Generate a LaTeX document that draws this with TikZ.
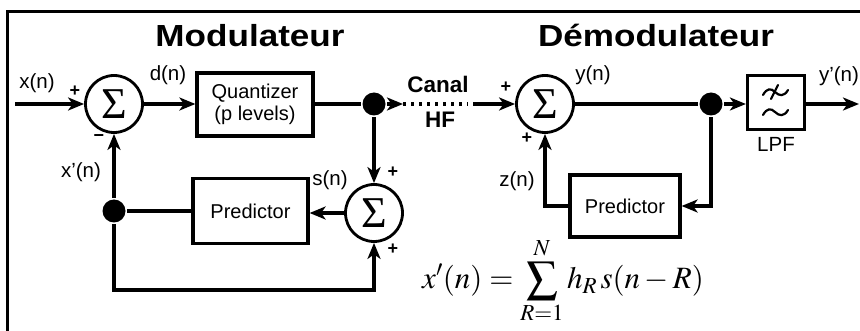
\documentclass[tikz,border=0pt]{standalone}
\usepackage{mathptmx}
\usepackage{fontspec}
\setmainfont{Liberation Sans}
\newfontfamily\sigfont{Liberation Serif}
\usetikzlibrary{arrows.meta}
\begin{document}
\begin{tikzpicture}[x=1pt,y=-1pt,
  line width=3.3pt,
  >={Stealth[length=16pt,width=13pt,inset=4.5pt]},
  sumnode/.style={circle,draw,line width=2.8pt,minimum size=57pt,inner sep=0pt,font=\sigfont\fontsize{44}{44}\selectfont},
  blockbox/.style={draw,line width=3.2pt,inner sep=0pt,align=center,font=\fontsize{20}{21.5}\selectfont},
  dotnode/.style={circle,fill,minimum size=23pt,inner sep=0pt},
  lbl/.style={inner sep=0pt,anchor=base,font=\fontsize{20.5}{22}\selectfont},
  bold lbl/.style={inner sep=0pt,anchor=base,font=\bfseries\fontsize{22.5}{24}\selectfont},
  sgn/.style={inner sep=0pt,font=\bfseries\fontsize{18}{18}\selectfont},
  titletext/.style={inner sep=0pt,anchor=base,font=\bfseries\fontsize{30.5}{34}\selectfont},
  wave/.style={line width=2.2pt,line cap=round},
]
\useasboundingbox (0,0) rectangle (860,331);
% frame
\draw[line width=3pt] (7.3,332) -- (7.3,11.7) -- (861,11.7);

% titles
\node[titletext] (t1) at (250,47) {\scalebox{1.15}[1]{Modulateur}};
\node[titletext] (t2) at (656,47) {\scalebox{1.15}[1]{Démodulateur}};

% ---------- modulator ----------
\node[sumnode] (s1) at (114,104) {Σ};
\node[blockbox,minimum width=116pt,minimum height=63pt] (q) at (255,104.5) {Quantizer\\(p levels)};
\node[dotnode] (d1) at (374,104) {};
\node[sumnode] (s3) at (374,213) {Σ};
\node[blockbox,minimum width=115pt,minimum height=65pt] (p1) at (250.5,211) {Predictor};
\node[dotnode] (d3) at (114,211) {};

\coordinate (in) at (15,104);
\coordinate (bl) at (114,290);

\draw[->] (in) -- (s1);
\draw[->] (s1.east) -- (q.west |- s1.east);
\draw (q.east |- d1) -- (d1);
\draw[->] (d1) -- (s3);
\draw[->] (s3.west) -- (p1.east |- s3.west);
\draw (p1.west |- d3) -- (d3);
\draw[->] (d3) -- (s1);
\draw[->] (d3) -- (bl) -| (s3.south);

\node[lbl] (lx) at (37,89) {x(n)};
\node[lbl] (ld) at (168,81) {d(n)};
\node[lbl] (lxp) at (81,178) {x'(n)};
\node[lbl] (ls) at (330,186) {s(n)};
\node[sgn] (g1) at (75,91) {+};
\node[sgn] (g2) at (99,138) {−};
\node[sgn] (g3) at (393,172) {+};
\node[sgn] (g4) at (393,249) {+};

% ---------- channel ----------
\coordinate (a1) at (403,104);
\coordinate (a2) at (468,104);
\coordinate (a3) at (473,104);
\draw[->] (d1) -- (a1);
\draw[line width=3.2pt,dash pattern=on 3pt off 5pt] (a1) -- (a2);
\node[bold lbl] (lc) at (438,93) {Canal};
\node[bold lbl] (lh) at (440,128) {HF};

% ---------- demodulator ----------
\node[sumnode] (s2) at (545,104) {Σ};
\node[dotnode] (d2) at (711,104) {};
\node[draw,line width=3.2pt,minimum width=57pt,minimum height=54pt,inner sep=0pt] (lpf) at (776,102.5) {};
\node[blockbox,minimum width=110pt,minimum height=62pt] (p2) at (625,206) {Predictor};
\coordinate (out) at (859,104);

\draw[->] (a3) -- (s2);
\draw (s2) -- (d2);
\draw[->] (d2) -- (d2 -| lpf.west);
\draw[->] (lpf.east |- out) -- (out);
\draw[->] (p2.west) -| (s2.south);
\draw[->] (d2) |- (p2.east);

% filter symbols
\draw[wave] (763,95) .. controls (767,88) and (771,88) .. (775,92) .. controls (779,96) and (784,97) .. (788,90);
\draw[wave] (771,99) -- (778,85);
\draw[wave] (763,115) .. controls (767,108) and (771,108) .. (775,112) .. controls (779,116) and (784,117) .. (788,110);

\node[lbl] (lsy) at (593,81) {y(n)};
\node[lbl] (lyp) at (839,82) {y'(n)};
\node[lbl] (ll) at (776,152) {LPF};
\node[lbl] (lz) at (517,187) {z(n)};
\node[sgn] (g5) at (506,87) {+};
\node[sgn] (g6) at (527,138) {+};

% equation
\node[inner sep=0pt,anchor=base] (eq) at (563,289) {\fontsize{31}{34}\selectfont $\displaystyle x'(n) = \sum_{R=1}^{N} h_R\, s(n - R)$};
\end{tikzpicture}
\end{document}
